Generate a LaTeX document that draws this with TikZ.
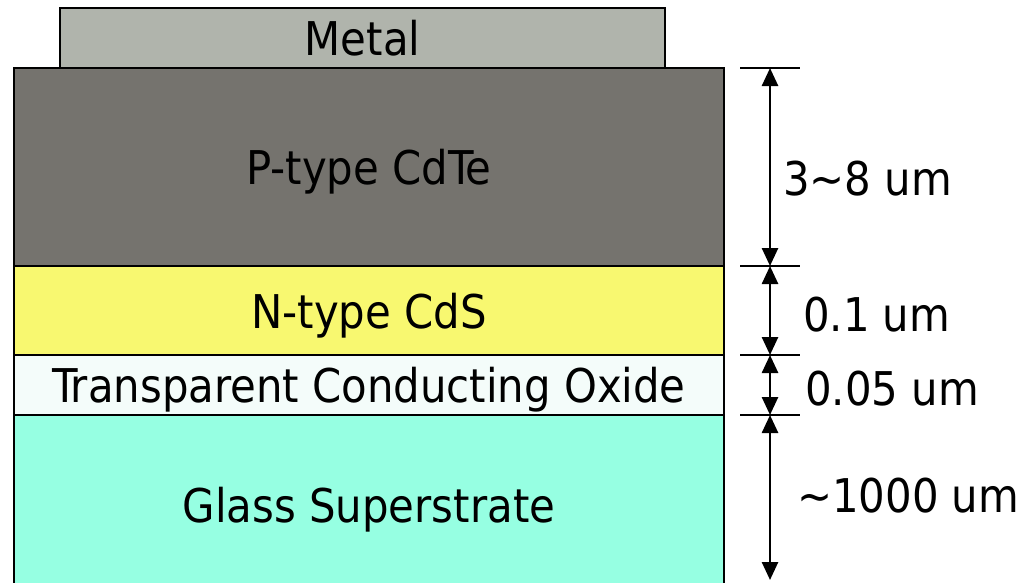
\documentclass[tikz,border=0pt]{standalone}
\usepackage{fontspec}
\setmainfont{DejaVu Sans Condensed}
\usetikzlibrary{arrows.meta}
\definecolor{metalgray}{RGB}{176,180,172}
\definecolor{cdtegray}{RGB}{117,115,110}
\definecolor{cdsyellow}{RGB}{248,248,112}
\definecolor{tcowhite}{RGB}{244,252,250}
\definecolor{glasscyan}{RGB}{150,255,226}
\tikzset{
  layer/.style={draw=black,line width=1.8pt,minimum width=710pt,inner sep=0pt,
    text depth=0pt,font=\fontsize{46.5}{50}\selectfont},
  tick/.style={line width=1.4pt},
  dim/.style={line width=2.6pt,{Triangle[length=18pt,width=16pt]}-{Triangle[length=18pt,width=16pt]}},
  dimlabel/.style={anchor=west,inner sep=0pt,text depth=0pt,font=\fontsize{46.5}{50}\selectfont}
}
\begin{document}
\begin{tikzpicture}[x=1pt,y=-1pt]
\useasboundingbox (0,0) rectangle (1032,582);
% 各层
\node[layer,fill=metalgray,minimum width=605pt,minimum height=60pt] (metal) at (362.5,38) {Metal};
\node[layer,fill=cdtegray,minimum height=198pt] (ptype) at (369,167) {P-type CdTe};
\node[layer,fill=cdsyellow,minimum height=89pt] (ntype) at (369,310.5) {N-type CdS};
\node[layer,fill=tcowhite,minimum height=60pt] (tco) at (369,385) {Transparent Conducting Oxide};
\node[layer,fill=glasscyan,minimum height=180pt] (glass) at (369,505) {Glass Superstrate};
% 尺寸标注
\coordinate (t0) at (770,68);
\coordinate (t1) at (770,266);
\coordinate (t2) at (770,355);
\coordinate (t3) at (770,415);
\coordinate (t4) at (770,580);
\foreach \t in {t0,t1,t2,t3}
  \draw[tick] ([xshift=-30pt]\t) -- ([xshift=30pt]\t);
\draw[dim] (t0) -- (t1);
\draw[dim] (t1) -- (t2);
\draw[dim] (t2) -- (t3);
\draw[dim] (t3) -- (t4);
\node[dimlabel] (d0) at (783,178) {3\textasciitilde8 um};
\node[dimlabel] (d1) at (803,314) {0.1 um};
\node[dimlabel] (d2) at (805,388) {0.05 um};
\node[dimlabel] (d3) at (797,495) {\textasciitilde1000 um};
\end{tikzpicture}
\end{document}
